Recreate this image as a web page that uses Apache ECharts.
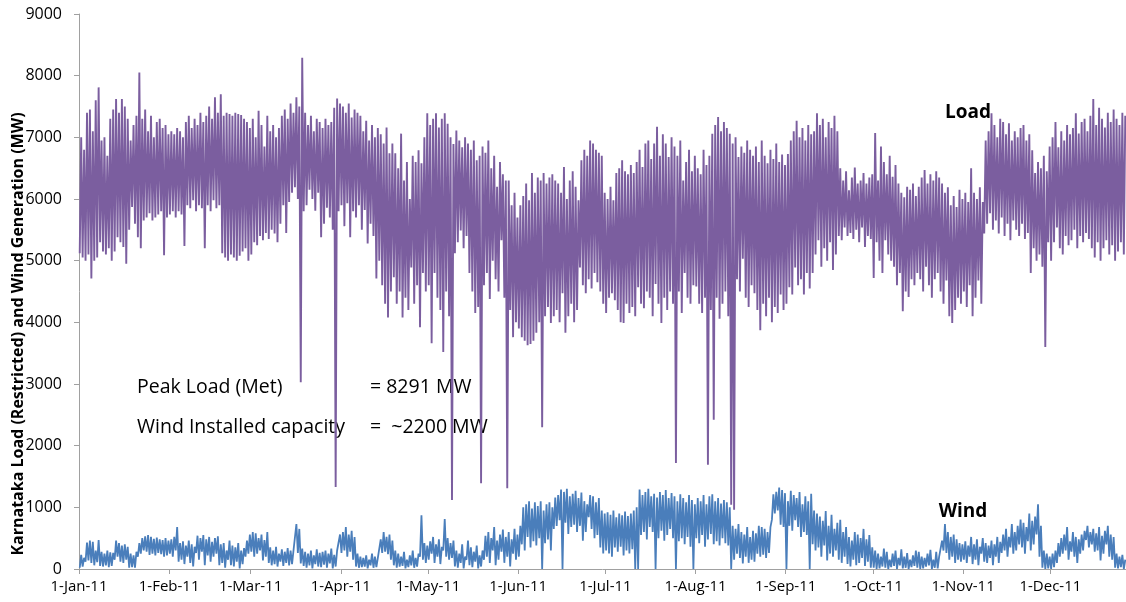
<!DOCTYPE html>
<html>
<head>
<meta charset="utf-8">
<script src="https://cdn.jsdelivr.net/npm/echarts@6/dist/echarts.min.js"></script>
<style>
  html, body { margin: 0; padding: 0; background: #ffffff; }
  #chart { width: 1126px; height: 602px; }
</style>
</head>
<body>
<div id="chart"></div>
<script>
// Month boundaries (day of year, 2011) and their axis labels
const monthStarts = [0, 31, 59, 90, 120, 151, 181, 212, 243, 273, 304, 334];
const monthLabels = ['1-Jan-11', '1-Feb-11', '1-Mar-11', '1-Apr-11', '1-May-11', '1-Jun-11',
                     '1-Jul-11', '1-Aug-11', '1-Sep-11', '1-Oct-11', '1-Nov-11', '1-Dec-11'];

// Karnataka load (MW): daily peak, one value per day from 1 Jan
const loadHigh = [
  7000,6800,7400,7450,7100,7600,7810,6950,7000,6700,7300,7450,7620,7400,7620,7500,7300,6950,7200,7350,8050,7300,7450,7100,7350,7000,7250,7300,7150,7200,7050, // Jan
  7100,7050,7150,7100,7000,7250,7350,7150,7300,7200,7400,7250,7350,7500,7300,7650,7400,7700,7350,7400,7380,7350,7400,7380,7360,7300,7250,7150, // Feb
  7300,7000,7430,7200,6850,7350,7100,7200,7000,7150,7350,7450,7300,7550,7400,7650,7500,8291,7400,7200,7350,7100,7300,7250,7150,7300,7200,7250,7480,7630,7550, // Mar
  7500,7400,7550,7320,7450,7400,7350,7100,7270,6950,7200,7000,7150,7050,6900,7160,6740,6900,6740,6500,7060,6300,6600,6000,6700,6600,6790,6580,7000,7390, // Apr
  7200,7300,7390,7160,7300,7390,7220,7000,6890,7110,6950,6840,7000,6900,6800,6950,6630,6700,6850,6750,6950,6500,6700,6200,6600,6400,6300,6300,5900,6100,5700, // May
  5900,6050,6250,5980,6420,6100,6350,6300,6420,6250,6350,6400,6300,6250,6100,6520,6000,6300,6450,6200,5980,6630,6800,6700,6950,6900,6800,6750,6700,6100, // Jun
  6000,6200,5980,6420,6500,6630,6450,6400,6550,6420,6600,6800,6520,6900,6950,6650,6900,7170,6700,7050,6900,6680,7000,6850,6700,6950,6300,6600,6800,6450,6700, // Jul
  6500,6400,6800,6550,6700,7060,7200,7330,7100,7250,7150,7060,6900,7000,6680,6850,6750,6950,6800,6700,6850,6600,6950,6700,6580,6800,6650,6900,6600,6720,6550, // Aug
  6730,6950,7100,7270,7000,7150,6950,7200,7050,7100,7390,7200,7300,7000,7250,7150,7350,7100,6500,6300,6450,6140,6350,6510,6250,6300,6420,6250,6350,6400, // Sep
  7070,6300,6850,6600,6400,6700,6360,6550,6250,6100,6030,6200,6150,6250,6050,6200,6350,6470,6250,6400,6300,6450,6350,6250,6100,6190,5900,6050,5870,6150,6000, // Oct
  6100,5950,6500,6100,6000,6190,5950,6950,7100,7390,7200,7000,7300,7250,7050,7230,6950,7100,7000,7150,7200,6950,7050,6790,6420,6600,6500,6700,6450,6850, // Nov
  7000,7250,6840,7100,6950,7200,7050,7150,7390,7060,7250,7300,7100,7350,7620,7200,7480,7300,7160,7400,7250,7450,7300,7200,7400,7350 // Dec
];

// Karnataka load (MW): daily trough, including the outage dips
const loadLow = [
  5120,5050,5000,5100,4710,5000,5050,5300,5150,5100,5200,5000,5150,5380,5300,5220,4950,5500,5870,5600,5380,5200,5650,5700,5770,5650,5700,5750,5800,5090,5700, // Jan
  5750,5800,5700,5800,5750,5240,5900,5850,5980,5800,5900,5850,5200,5900,5800,5980,5850,5900,5120,5050,5000,5100,5050,5000,5080,5150,5200,5000, // Feb
  5100,5300,5250,5400,5330,5450,5350,5500,5440,5300,5600,5900,5450,5950,6100,6190,6000,3030,5800,5900,6150,6000,5810,6100,5380,5600,5860,5700,5500,1330,5800, // Mar
  5900,5560,5930,5380,5800,5700,5900,5500,5820,5280,5600,5400,4710,5000,4600,4300,4080,4500,4730,4300,4500,4080,4400,4200,4890,4300,4600,3920,4800,4500, // Apr
  4600,3660,4800,4400,4200,3520,4500,4100,1120,5120,5300,5490,5200,5400,4800,4500,4150,4250,1390,4600,4800,4380,5000,4700,4500,5330,4400,1310,4200,3760,4000, // May
  3900,3760,3700,3630,3650,3700,3830,4000,2300,4100,4250,3990,4100,4200,4000,4470,3830,4100,4300,4000,4200,4890,4600,4470,4700,4550,4800,4650,4500,4300, // Jun
  4150,4400,4470,4360,4200,4000,3990,4300,4150,4250,4100,4570,4300,4230,4500,4400,4100,4620,4300,3990,4400,4200,4500,4300,1720,4500,4150,4800,4400,4300,4600, // Jul
  4580,4300,4150,4400,1690,4200,2420,4400,4060,4300,4500,4100,1040,960,4700,4500,5030,4400,4250,4600,4470,4200,3870,4300,4100,4400,4000,4250,4150,4450,4200, // Aug
  4300,4570,4450,4890,4600,4700,4450,4800,4550,4800,5100,5330,4900,5200,5000,5300,4850,5100,5400,5330,5540,5400,5450,5350,5500,5300,5540,5220,5400,5350, // Sep
  4720,5300,5000,4800,5330,5100,5000,4900,4600,4800,4180,4500,4410,4700,4600,4800,4700,4500,4900,4600,4400,4700,4800,4500,4300,4680,4100,3990,4200,4400,4300, // Oct
  4500,4250,4600,4100,4400,4680,4300,5440,5600,5770,5500,5650,5440,5700,5400,5600,5330,5650,5500,5400,5600,5350,5450,4800,5200,5000,5100,4900,3600,5300, // Nov
  5000,5300,5540,5200,5100,5400,5250,5330,5500,5200,5400,5300,5450,5350,5200,5050,5300,5000,5200,5330,5100,5250,5000,5150,5300,5100 // Dec
];

// Wind generation (MW): daily maximum
const windHigh = [
  230,180,430,460,440,300,470,280,250,300,270,260,460,420,380,400,360,250,220,280,420,500,530,550,520,490,510,480,470,500,460, // Jan
  480,520,680,420,450,380,460,400,360,540,500,550,480,520,440,500,530,400,420,300,460,380,350,420,300,340,460,560, // Feb
  600,580,500,560,470,600,350,300,360,250,320,280,340,300,300,730,650,330,280,250,300,220,320,260,280,300,250,330,230,300,560, // Mar
  600,680,560,620,520,250,200,180,220,150,250,200,180,480,600,520,560,460,300,250,200,280,150,220,300,180,250,870,420,380, // Apr
  450,520,400,480,360,810,500,420,460,300,250,400,200,460,350,280,380,220,300,540,600,500,680,460,560,640,520,600,480,650,560, // May
  700,1000,1050,1100,980,1080,1020,1100,950,1050,1080,1000,1160,1200,1290,1250,1300,1180,1220,1270,1150,1240,1100,1050,1200,1180,1080,1150,950,900, // Jun
  920,880,950,840,900,870,930,860,900,950,1000,1290,1200,1250,1300,1180,1220,1160,1250,1200,1280,1150,1230,1180,1100,1210,1150,1080,1200,1120,1050, // Jul
  1150,1100,1200,1050,1180,1210,1100,1150,1060,1120,1080,1000,700,650,730,600,560,680,520,620,580,700,680,650,600,680,1210,1250,1320,1280,1230, // Aug
  1100,1270,1200,1150,1250,1050,1180,1100,1220,950,900,850,780,940,700,880,650,750,800,600,680,520,460,600,560,500,650,480,550,350, // Sep
  300,250,200,330,280,150,250,300,180,320,200,260,150,220,300,280,200,180,250,310,150,280,200,460,730,600,520,560,480,420,400, // Oct
  450,380,520,400,480,360,500,420,380,460,400,520,440,560,650,520,730,600,700,800,750,680,900,780,850,1050,700,300,250,200, // Nov
  250,300,420,500,560,680,450,600,520,480,560,620,700,600,650,580,680,540,620,700,560,520,250,200,230,150 // Dec
];

// Wind generation (MW): daily minimum
const windLow = [
  20,40,120,140,100,60,110,50,40,60,30,50,150,200,120,100,150,20,30,20,200,250,300,280,230,250,220,260,240,200,220, // Jan
  250,200,300,120,150,80,200,100,40,260,150,280,60,220,120,200,250,60,100,20,150,60,40,120,10,80,200,250, // Feb
  280,200,250,300,140,200,100,60,80,40,120,50,100,60,80,300,260,90,50,20,60,10,80,40,30,70,20,90,10,40,280, // Mar
  260,300,200,280,150,40,20,30,40,10,60,20,30,200,260,280,240,150,60,20,40,50,10,30,60,20,40,200,150,100, // Apr
  150,250,100,200,80,300,200,150,180,40,20,100,10,150,60,30,120,10,40,150,200,100,300,60,150,280,100,200,40,250,150, // May
  200,400,300,520,350,450,380,500,0,420,480,300,650,700,790,0,750,570,680,720,600,700,460,600,840,650,500,550,350,250, // Jun
  300,250,200,350,280,360,220,300,250,320,0,0,550,600,480,680,600,0,500,620,460,550,650,500,0,450,500,400,520,360,0, // Jul
  500,420,550,360,480,570,400,450,380,500,420,380,0,150,250,180,90,200,100,150,120,250,200,230,180,260,800,900,950,720,680, // Aug
  0,700,620,790,680,520,600,550,0,400,300,350,200,380,140,250,200,300,150,100,200,80,40,150,60,100,180,50,120,20, // Sep
  20,0,10,40,20,0,30,50,0,60,10,20,0,30,50,20,0,10,40,60,0,20,10,200,300,260,150,200,100,150,120, // Oct
  150,100,200,80,150,60,250,120,100,180,60,200,100,260,300,200,350,250,300,400,350,250,450,300,400,560,200,20,0,10, // Nov
  0,30,100,200,250,300,150,280,200,100,250,300,470,350,400,280,300,140,250,400,200,150,20,10,30,0 // Dec
];

// Each day is traced as a swing from its night-time low to its evening high
function dailySwing(low, high) {
  const pts = [];
  for (let d = 0; d < low.length; d++) {
    pts.push([d + 0.25, low[d]]);
    pts.push([d + 0.75, high[d]]);
  }
  return pts;
}

const FONT = '"Open Sans", "Liberation Sans", sans-serif';
const AXIS_GREY = '#a0a0a0';

const chart = echarts.init(document.getElementById('chart'), null, { renderer: 'canvas' });

chart.setOption({
  animation: false,
  backgroundColor: '#ffffff',
  grid: { left: 79, right: 0, top: 14, bottom: 33, containLabel: false },
  xAxis: {
    type: 'value',
    min: 0,
    max: 360,
    splitLine: { show: false },
    axisLine: { show: true, lineStyle: { color: AXIS_GREY, width: 1 } },
    axisTick: { show: true, length: 5, customValues: monthStarts, lineStyle: { color: AXIS_GREY } },
    axisLabel: {
      customValues: monthStarts,
      formatter: v => monthLabels[monthStarts.indexOf(v)],
      fontFamily: FONT, fontSize: 15, color: '#000000', margin: 10
    }
  },
  yAxis: {
    type: 'value',
    min: 0,
    max: 9000,
    interval: 1000,
    splitLine: { show: false },
    axisLine: { show: true, lineStyle: { color: AXIS_GREY, width: 1 } },
    axisTick: { show: true, length: 5, lineStyle: { color: AXIS_GREY } },
    axisLabel: {
      formatter: v => String(v),
      fontFamily: FONT, fontSize: 16, color: '#000000', margin: 17
    }
  },
  series: [
    {
      name: 'Load',
      type: 'line',
      data: dailySwing(loadLow, loadHigh),
      showSymbol: false,
      sampling: 'none',
      lineStyle: { color: '#7b5e9f', width: 1.9 },
      z: 2
    },
    {
      name: 'Wind',
      type: 'line',
      data: dailySwing(windLow, windHigh),
      showSymbol: false,
      sampling: 'none',
      lineStyle: { color: '#4a7ebb', width: 1.8 },
      z: 3
    }
  ],
  graphic: [
    {
      type: 'text', x: 18, y: 334, rotation: Math.PI / 2,
      style: {
        text: 'Karnataka Load (Restricted) and Wind Generation (MW)',
        fontFamily: FONT, fontSize: 16, fontWeight: 'bold', fill: '#000000',
        align: 'center', verticalAlign: 'middle'
      }
    },
    {
      type: 'text', x: 137, y: 387,
      style: { text: 'Peak Load (Met)', fontFamily: FONT, fontSize: 19.5, fill: '#000000', align: 'left', verticalAlign: 'middle' }
    },
    {
      type: 'text', x: 370, y: 387,
      style: { text: '= 8291 MW', fontFamily: FONT, fontSize: 19.5, fill: '#000000', align: 'left', verticalAlign: 'middle' }
    },
    {
      type: 'text', x: 137, y: 427,
      style: { text: 'Wind Installed capacity', fontFamily: FONT, fontSize: 19.5, fill: '#000000', align: 'left', verticalAlign: 'middle' }
    },
    {
      type: 'text', x: 370, y: 427,
      style: { text: '=  ~2200 MW', fontFamily: FONT, fontSize: 19.5, fill: '#000000', align: 'left', verticalAlign: 'middle' }
    },
    {
      type: 'text', x: 968, y: 113,
      style: { text: 'Load', fontFamily: FONT, fontSize: 19, fontWeight: 'bold', fill: '#000000', align: 'center', verticalAlign: 'middle' }
    },
    {
      type: 'text', x: 963, y: 512,
      style: { text: 'Wind', fontFamily: FONT, fontSize: 19, fontWeight: 'bold', fill: '#000000', align: 'center', verticalAlign: 'middle' }
    }
  ]
});
</script>
</body>
</html>
